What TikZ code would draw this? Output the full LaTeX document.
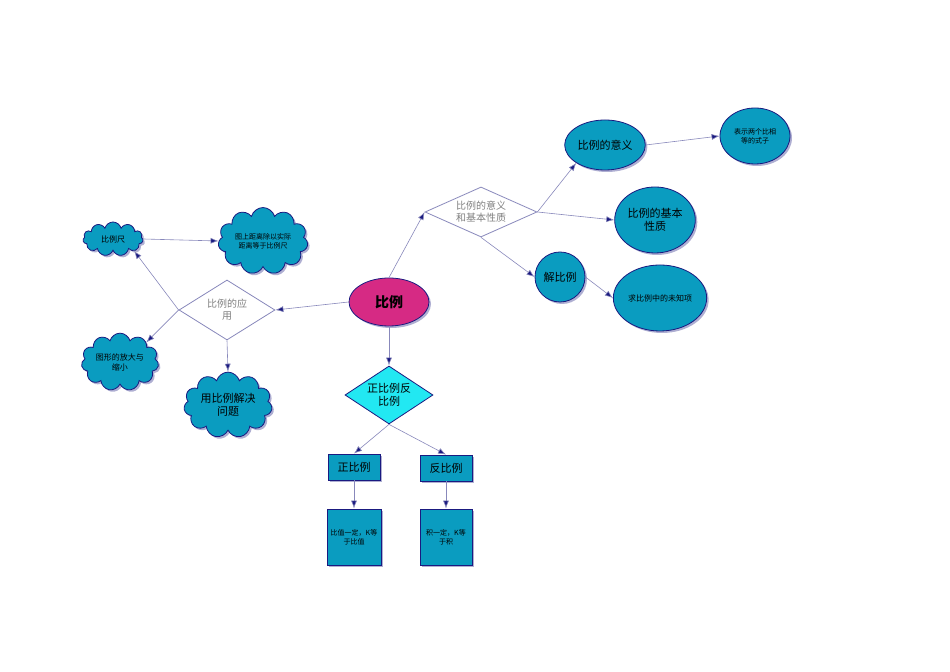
\documentclass[tikz,border=0pt]{standalone}
\usepackage{fontspec}
\setmainfont{Noto Sans CJK SC}
\usetikzlibrary{shapes.geometric,shapes.symbols,shadows,arrows.meta}
\definecolor{teal}{HTML}{0A9CC0}
\definecolor{mag}{HTML}{D62A84}
\definecolor{cy}{HTML}{22E8F2}
\definecolor{nv}{HTML}{1A1A80}
\definecolor{ln}{HTML}{8888BB}
\begin{document}
\begin{tikzpicture}[x=0.5pt,y=-0.5pt,
 base/.style={draw=nv,line width=0.4pt,align=center,inner sep=0.5pt,font=\fontsize{5}{6}\selectfont,
   drop shadow={shadow xshift=1pt,shadow yshift=-1pt,fill=nv!70}},
 cl/.style={base,cloud,cloud puffs=11,fill=teal,aspect=1.6},
 el/.style={base,ellipse,fill=teal},
 bx/.style={base,rectangle,fill=teal},
 dm/.style={draw=ln,diamond,align=center,inner sep=0pt,font=\fontsize{5}{6}\selectfont,text=gray},
 ar/.style={draw=ln,line width=0.3pt,-{Latex[length=4pt,width=3pt,fill=nv]}}]
\useasboundingbox (0,0) rectangle (950,672);
\node[base,ellipse,fill=mag,minimum width=40pt,minimum height=24pt,font=\fontsize{7}{8}\selectfont\bfseries] (c) at (389,302) {比例};
\node[dm,fill=white,minimum width=48pt,minimum height=30pt,aspect=1.6] (app) at (227,310) {比例的应\\用};
\node[dm,fill=white,minimum width=56pt,minimum height=25pt,aspect=2.2] (mean) at (481,212) {比例的意义\\和基本性质};
\node[dm,draw=nv,fill=cy,text=black,minimum width=44pt,minimum height=29pt,aspect=1.5,font=\fontsize{5.5}{6.5}\selectfont] (zf) at (389,395) {正比例反\\比例};
\node[cl,minimum width=30pt,minimum height=17pt,font=\fontsize{4}{5}\selectfont] (ruler) at (113,239) {比例尺};
\node[cl,minimum width=40pt,minimum height=24pt,font=\fontsize{3.5}{4.5}\selectfont] (map) at (263,241) {图上距离除以实际\\距离等于比例尺};
\node[cl,minimum width=35pt,minimum height=20pt,font=\fontsize{4}{5}\selectfont] (zoomn) at (120,362) {图形的放大与\\缩小};
\node[cl,minimum width=41pt,minimum height=23pt,font=\fontsize{5.5}{6.5}\selectfont] (use) at (228,405) {用比例解决\\问题};
\node[el,minimum width=35pt,minimum height=25pt,font=\fontsize{5.5}{6.5}\selectfont] (yy) at (605,145) {比例的意义};
\node[el,minimum width=35pt,minimum height=28pt,font=\fontsize{3.5}{4.5}\selectfont] (bs) at (755,136) {表示两个比相\\等的式子};
\node[el,minimum width=32pt,minimum height=33pt,font=\fontsize{5.5}{6.5}\selectfont] (xz) at (655,220) {比例的基本\\性质};
\node[el,minimum width=25pt,minimum height=25pt,font=\fontsize{5.5}{6.5}\selectfont] (jb) at (560,277) {解比例};
\node[el,minimum width=38pt,minimum height=33pt,font=\fontsize{4}{5}\selectfont] (qb) at (660,298) {求比例中的未知项};
\node[bx,minimum width=26pt,minimum height=13pt,font=\fontsize{5.5}{6.5}\selectfont] (zb) at (354,467) {正比例};
\node[bx,minimum width=26pt,minimum height=13pt,font=\fontsize{5.5}{6.5}\selectfont] (fb) at (446,468) {反比例};
\node[bx,minimum width=27pt,minimum height=28pt,font=\fontsize{3.5}{4.5}\selectfont] (zz) at (354,537) {比值一定，K等\\于比值};
\node[bx,minimum width=26pt,minimum height=28pt,font=\fontsize{3.5}{4.5}\selectfont] (ff) at (446,537) {积一定，K等\\于积};
\draw[ar] (c.west) -- (app.east);
\draw[ar] (c.north) -- (mean.west);
\draw[ar] (c.south) -- (zf.north);
\draw[ar] (app.west) -- (ruler.south east);
\draw[ar] (app.west) -- (zoomn.north east);
\draw[ar] (app.south) -- (use.north);
\draw[ar] (ruler.east) -- (map.west);
\draw[ar] (mean.east) -- (yy.south west);
\draw[ar] (mean.east) -- (xz.west);
\draw[ar] (mean.south) -- (jb.west);
\draw[ar] (yy.east) -- (bs.west);
\draw[ar] (jb.east) -- (qb.west);
\draw[ar] (zf.south) -- (zb.north);
\draw[ar] (zf.south) -- (fb.north);
\draw[ar] (zb.south) -- (zz.north);
\draw[ar] (fb.south) -- (ff.north);
\end{tikzpicture}
\end{document}
